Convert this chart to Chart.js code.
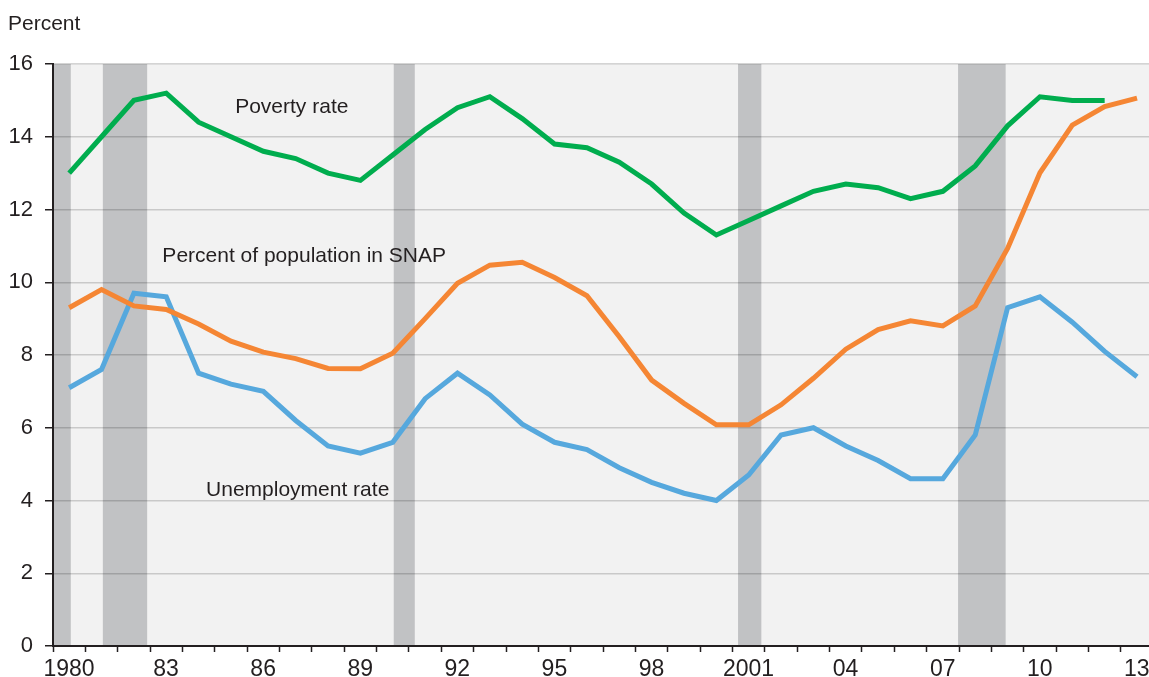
<!DOCTYPE html>
<html>
<head>
<meta charset="utf-8">
<script src="https://cdn.jsdelivr.net/npm/chart.js@4.4.1/dist/chart.umd.min.js"></script>
<style>
  html, body { margin: 0; padding: 0; background: #fff; }
  #wrap { width: 1149px; height: 677px; position: relative; }
</style>
</head>
<body>
<div id="wrap"><canvas id="chart"></canvas></div>
<script>
// ---- data (annual) ----
const years = [1980, 1981, 1982, 1983, 1984, 1985, 1986, 1987, 1988, 1989,
               1990, 1991, 1992, 1993, 1994, 1995, 1996, 1997, 1998, 1999,
               2000, 2001, 2002, 2003, 2004, 2005, 2006, 2007, 2008, 2009,
               2010, 2011, 2012, 2013];

// poverty rate stops at 2012
const povertyRate = [13.0, 14.0, 15.0, 15.2, 14.4, 14.0, 13.6, 13.4, 13.0, 12.8,
                     13.5, 14.2, 14.8, 15.1, 14.5, 13.8, 13.7, 13.3, 12.7, 11.9,
                     11.3, 11.7, 12.1, 12.5, 12.7, 12.6, 12.3, 12.5, 13.2, 14.3,
                     15.1, 15.0, 15.0];

const snapShare = [9.3, 9.8, 9.35, 9.25, 8.85, 8.38, 8.08, 7.9, 7.63, 7.62,
                   8.05, 9.0, 9.97, 10.47, 10.55, 10.13, 9.63, 8.5, 7.31, 6.67,
                   6.08, 6.08, 6.63, 7.36, 8.16, 8.7, 8.94, 8.8, 9.35, 10.93,
                   13.01, 14.32, 14.83, 15.06];

const unemploymentRate = [7.1, 7.6, 9.7, 9.6, 7.5, 7.2, 7.0, 6.2, 5.5, 5.3,
                          5.6, 6.8, 7.5, 6.9, 6.1, 5.6, 5.4, 4.9, 4.5, 4.2,
                          4.0, 4.7, 5.8, 6.0, 5.5, 5.1, 4.6, 4.6, 5.8, 9.3,
                          9.6, 8.9, 8.1, 7.4];

// recession periods as decimal years [start, end]
const recessions = [[1980.0, 1980.55], [1981.54, 1982.91], [1990.53, 1991.18],
                    [2001.17, 2001.89], [2007.97, 2009.44]];

const xMin = 1980, xMax = 2013.87;
const yMin = 0, yMax = 16, yStep = 2;

// in-chart series labels, anchored in data units (decimal year, percent)
const seriesNotes = [
  { text: "Poverty rate", x: 1985.63, y: 14.65 },
  { text: "Percent of population in SNAP", x: 1983.38, y: 10.56 },
  { text: "Unemployment rate", x: 1984.73, y: 4.13 },
];

const INK = "#231f20";
const FONT = "'Liberation Sans', Arial, Helvetica, sans-serif";
Chart.defaults.font.family = FONT;
Chart.defaults.color = INK;

// each annual value sits at mid-year
const toPoints = vals => vals.map((v, i) => ({ x: years[i] + 0.5, y: v }));

const backdrop = {
  id: "backdrop",
  beforeDraw(chart) {
    const { ctx, chartArea: a, scales: { x } } = chart;
    ctx.save();
    ctx.fillStyle = "#f2f2f2";
    ctx.fillRect(a.left, a.top, a.right - a.left, a.bottom - a.top);
    ctx.fillStyle = "#c1c2c4";
    recessions.forEach(([s, e]) => {
      const x0 = Math.max(x.getPixelForValue(s), a.left);
      const x1 = x.getPixelForValue(e);
      ctx.fillRect(x0, a.top, x1 - x0, a.bottom - a.top);
    });
    ctx.restore();
  },
  afterDatasetsDraw(chart) {
    const { ctx, chartArea: a, scales: { x, y } } = chart;
    ctx.save();
    ctx.fillStyle = INK;
    ctx.font = "21px " + FONT;
    ctx.textBaseline = "alphabetic";
    ctx.textAlign = "left";
    seriesNotes.forEach(n => {
      ctx.fillText(n.text, x.getPixelForValue(n.x), y.getPixelForValue(n.y));
    });
    ctx.fillText("Percent", 8, a.top - 34);
    ctx.restore();
  }
};

new Chart(document.getElementById("chart"), {
  type: "line",
  data: {
    datasets: [
      { label: "Poverty rate", data: toPoints(povertyRate), borderColor: "#00ad4e" },
      { label: "Percent of population in SNAP", data: toPoints(snapShare), borderColor: "#f58634" },
      { label: "Unemployment rate", data: toPoints(unemploymentRate), borderColor: "#56a8dd" },
    ],
  },
  options: {
    responsive: true,
    maintainAspectRatio: false,
    animation: false,
    layout: { padding: { top: 64, right: 0, left: 0, bottom: 0 } },
    elements: {
      line: { borderWidth: 5, tension: 0, borderJoinStyle: "miter", borderCapStyle: "butt", fill: false },
      point: { radius: 0, hoverRadius: 0 },
    },
    scales: {
      x: {
        type: "linear",
        min: xMin,
        max: xMax,
        grid: {
          drawOnChartArea: false,
          drawTicks: true,
          tickLength: 6,
          tickColor: INK,
          tickWidth: 1.5,
        },
        border: { display: true, color: INK, width: 2 },
        ticks: {
          stepSize: 1,
          includeBounds: false,
          autoSkip: false,
          maxRotation: 0,
          labelOffset: 16,
          padding: 4,
          font: { size: 23 },
          color: INK,
          callback(value) {
            if ((value - years[0]) % 3 !== 0) return "";
            if (value === 1980 || value === 2001) return String(value);
            return String(value).slice(2);
          },
        },
        afterFit(scale) { scale.height = 31; },
      },
      y: {
        min: yMin,
        max: yMax,
        grid: {
          color: "rgba(0,0,0,0.17)",
          lineWidth: 1.5,
          tickLength: 8,
          tickColor: INK,
          tickWidth: 1.5,
        },
        border: { display: true, color: INK, width: 2 },
        ticks: { stepSize: yStep, padding: 12, font: { size: 22 }, color: INK },
        afterFit(scale) { scale.width = 53; },
      },
    },
    plugins: {
      legend: { display: false },
      tooltip: { enabled: false },
    },
  },
  plugins: [backdrop],
});
</script>
</body>
</html>
